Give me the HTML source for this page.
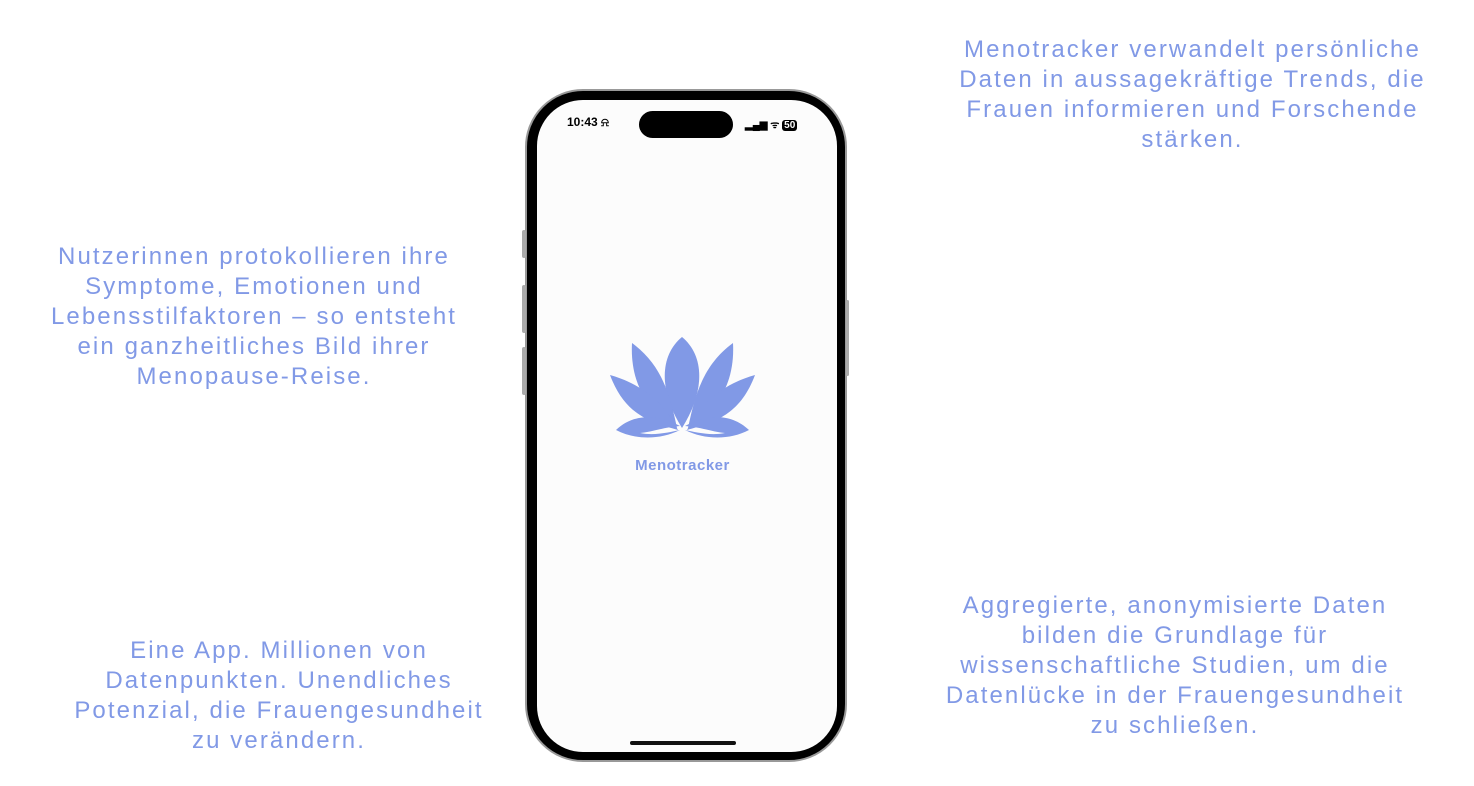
<!DOCTYPE html>
<html><head><meta charset="utf-8"><style>
body{margin:0;width:1474px;height:786px;background:#fff;position:relative;overflow:hidden;font-family:"Liberation Sans",sans-serif;}
.t{position:absolute;color:#8199e6;font-size:24px;line-height:30px;text-align:center;letter-spacing:2.1px;white-space:nowrap}
</style></head><body>
<div class="t" style="left:930px;top:35px;width:525px">Menotracker verwandelt persönliche<br>Daten in aussagekräftige Trends, die<br>Frauen informieren und Forschende<br>stärken.</div>
<div class="t" style="left:20px;top:242px;width:468px">Nutzerinnen protokollieren ihre<br>Symptome, Emotionen und<br>Lebensstilfaktoren – so entsteht<br>ein ganzheitliches Bild ihrer<br>Menopause-Reise.</div>
<div class="t" style="left:50px;top:636px;width:458px">Eine App. Millionen von<br>Datenpunkten. Unendliches<br>Potenzial, die Frauengesundheit<br>zu verändern.</div>
<div class="t" style="left:920px;top:591px;width:510px">Aggregierte, anonymisierte Daten<br>bilden die Grundlage für<br>wissenschaftliche Studien, um die<br>Datenlücke in der Frauengesundheit<br>zu schließen.</div>

<div style="position:absolute;left:525px;top:89px;width:322px;height:673px;border:2px solid #999;border-radius:58px;background:#000;box-sizing:border-box"></div>
<div style="position:absolute;left:522px;top:230px;width:4px;height:28px;background:#aaa;border-radius:2px"></div>
<div style="position:absolute;left:522px;top:285px;width:4px;height:48px;background:#aaa;border-radius:2px"></div>
<div style="position:absolute;left:522px;top:347px;width:4px;height:48px;background:#aaa;border-radius:2px"></div>
<div style="position:absolute;left:846px;top:300px;width:3px;height:76px;background:#aaa;border-radius:2px"></div>
<div style="position:absolute;left:537px;top:100px;width:300px;height:652px;background:#fcfcfc;border-radius:46px"></div>
<div style="position:absolute;left:639px;top:111px;width:94px;height:27px;background:#000;border-radius:14px"></div>
<div style="position:absolute;left:567px;top:115px;font-size:12px;font-weight:bold;color:#000">10:43 ⍾</div>
<div style="position:absolute;left:745px;top:117px;font-size:10px;font-weight:bold;color:#000">▂▄▆ ᯤ <span style="background:#000;color:#fff;border-radius:3px;padding:0 2px">50</span></div>
<div style="position:absolute;left:630px;top:741px;width:106px;height:4px;background:#111;border-radius:2px"></div>

<svg style="position:absolute;left:600px;top:330px" width="165" height="150" viewBox="0 0 165 150">
<g fill="#8199e6">
<path d="M82 7 C60 25 58 60 82 98 C106 60 104 25 82 7Z"/>
<path d="M32 13 C30 50 45 80 77 98 C70 65 62 35 32 13Z"/>
<path d="M133 13 C135 50 120 80 88 98 C95 65 103 35 133 13Z"/>
<path d="M10 45 C25 85 50 92 78 100 C65 75 45 55 10 45Z"/>
<path d="M155 45 C140 85 115 92 87 100 C100 75 120 55 155 45Z"/>
<path d="M16 100 C35 82 60 85 80 96 C60 98 52 102 40 103 C55 106 70 102 80 100 C60 110 35 110 16 100Z"/>
<path d="M149 100 C130 82 105 85 85 96 C105 98 113 102 125 103 C110 106 95 102 85 100 C105 110 130 110 149 100Z"/>
</g>
<text x="82.5" y="140" text-anchor="middle" font-family="Liberation Sans,sans-serif" font-weight="bold" font-size="15" letter-spacing="0.5" fill="#8199e6">Menotracker</text>
</svg>
</body></html>
